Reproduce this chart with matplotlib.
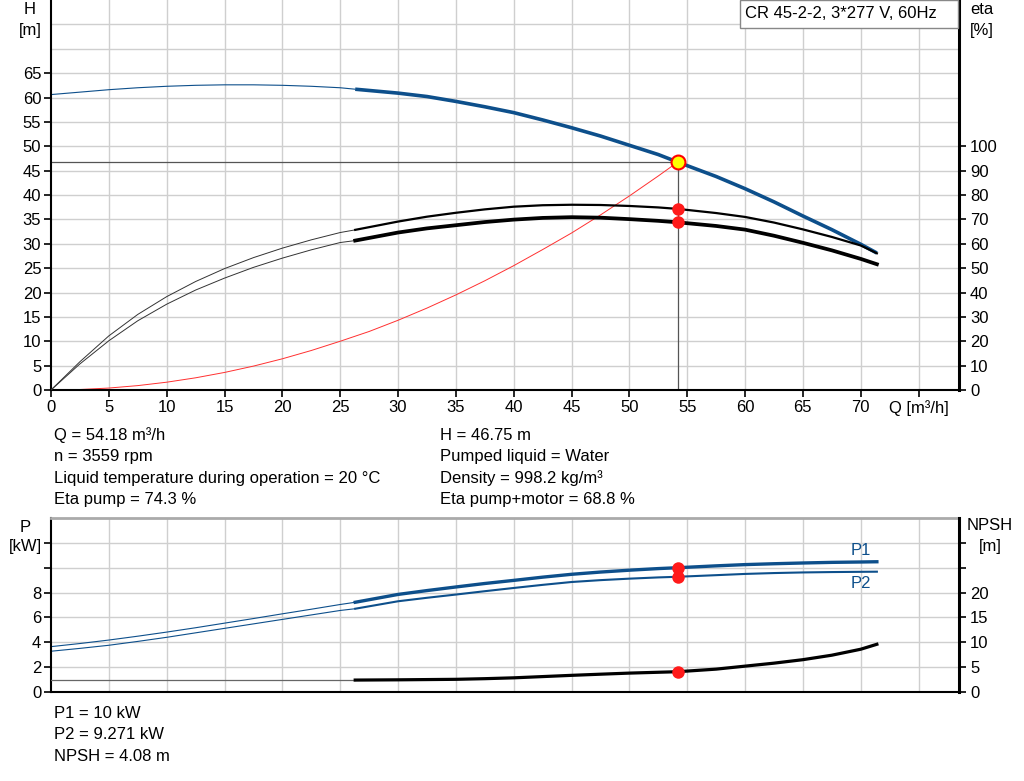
import numpy as np
import matplotlib.pyplot as plt
from matplotlib.patches import Rectangle

plt.rcParams['font.family'] = ['Liberation Sans', 'DejaVu Sans']
plt.rcParams['font.size'] = 12

# --- curve data ---
q = [0, 2.5, 5, 7.5, 10, 12.5, 15, 17.5, 20, 22.5, 25, 26.3, 30, 32.5, 35, 37.5,
     40, 42.5, 45, 47.5, 50, 52.5, 54.18, 57.5, 60, 62.5, 65, 67.5, 70, 71.4]
head = [60.6, 61.1, 61.6, 62.0, 62.3, 62.5, 62.6, 62.6, 62.5, 62.3, 62.0, 61.7,
        60.9, 60.2, 59.2, 58.1, 56.9, 55.4, 53.8, 52.1, 50.2, 48.3, 46.75, 43.8,
        41.3, 38.6, 35.7, 32.9, 29.9, 28.1]
eta_pump = [0, 11.6, 22.2, 31.0, 38.3, 44.5, 49.8, 54.3, 58.2, 61.6, 64.6, 65.7,
            69.1, 71.1, 72.7, 74.1, 75.2, 75.8, 76.0, 75.9, 75.5, 74.9, 74.3, 72.6,
            71.0, 68.7, 65.9, 62.8, 59.3, 56.1]
eta_total = [0, 10.7, 20.2, 28.4, 35.2, 41.0, 45.9, 50.3, 54.1, 57.5, 60.5, 61.3,
             64.6, 66.3, 67.6, 68.9, 69.9, 70.6, 70.9, 70.7, 70.1, 69.4, 68.8, 67.3,
             65.8, 63.3, 60.4, 57.3, 53.8, 51.6]
p1 = [3.65, 3.9, 4.18, 4.49, 4.82, 5.17, 5.54, 5.91, 6.29, 6.66, 7.04, 7.22, 7.85,
      8.16, 8.45, 8.73, 8.98, 9.24, 9.47, 9.65, 9.8, 9.93, 10.0, 10.15, 10.25, 10.32,
      10.38, 10.43, 10.46, 10.48]
p2 = [3.28, 3.51, 3.76, 4.07, 4.40, 4.76, 5.12, 5.48, 5.84, 6.2, 6.56, 6.70, 7.3,
      7.58, 7.84, 8.11, 8.37, 8.62, 8.85, 9.0, 9.12, 9.22, 9.271, 9.4, 9.5, 9.57,
      9.62, 9.65, 9.67, 9.68]
npsh = [2.4, 2.4, 2.4, 2.4, 2.4, 2.4, 2.4, 2.4, 2.4, 2.4, 2.4, 2.4, 2.45, 2.5,
        2.55, 2.68, 2.85, 3.1, 3.35, 3.58, 3.8, 3.97, 4.08, 4.6, 5.2, 5.8, 6.5, 7.4,
        8.6, 9.6]

q_sys = [0, 2.5, 5, 7.5, 10, 12.5, 15, 17.5, 20, 22.5, 25, 27.5, 30, 32.5, 35,
         37.5, 40, 42.5, 45, 47.5, 50, 52.5, 54.18]
h_sys = [0, 0.1, 0.4, 0.9, 1.6, 2.5, 3.6, 4.9, 6.4, 8.1, 10.0, 12.0, 14.3, 16.8,
         19.5, 22.4, 25.5, 28.8, 32.2, 35.9, 39.8, 43.9, 46.75]

q_duty, h_duty = 54.18, 46.75
eta_duty, eta_tot_duty = 74.3, 68.8
p1_duty, p2_duty, npsh_duty = 10.0, 9.271, 4.08
q_min = 26.3  # start of the recommended operating range

info_left = ["Q = 54.18 m³/h", "n = 3559 rpm",
             "Liquid temperature during operation = 20 °C", "Eta pump = 74.3 %"]
info_right = ["H = 46.75 m", "Pumped liquid = Water",
              "Density = 998.2 kg/m³", "Eta pump+motor = 68.8 %"]
info_bottom = ["P1 = 10 kW", "P2 = 9.271 kW", "NPSH = 4.08 m"]
title = "CR 45-2-2, 3*277 V, 60Hz"

blue = '#0d4f8b'
grid_c = '#cfcfcf'
W, H = 1024, 781


def fx(x):
    return x / W


def fy(y):
    return 1 - y / H


q = np.array(q)
i0 = list(q).index(q_min)

fig = plt.figure(figsize=(10.24, 7.81), dpi=100)

# ---------- top: head / efficiency ----------
ax = fig.add_axes([fx(51), fy(390), fx(959) - fx(51), fy(0) - fy(390)])
ax2 = ax.twinx()
ax.set_xlim(0, 78.5)
ax.set_ylim(0, 80)
ax2.set_ylim(0, 160)

for v in np.arange(5, 80, 5):
    ax.axvline(v, color=grid_c, lw=1, zorder=0)
for v in np.arange(5, 80, 5):
    ax.axhline(v, color=grid_c, lw=1, zorder=0)

xt = np.arange(0, 80, 5)
ax.set_xticks(xt)
ax.set_xticklabels([str(v) for v in xt[:-1]] + ["Q [m³/h]"])
ax.set_yticks(np.arange(0, 70, 5))
ax2.set_yticks(np.arange(0, 110, 10))

ax.plot(q[:i0 + 1], head[:i0 + 1], color=blue, lw=0.8)
ax.plot(q[i0:], head[i0:], color=blue, lw=2.6, solid_capstyle='butt')
ax.plot(q_sys, h_sys, color='#ff3030', lw=0.7)
ax.plot([0, q_duty], [h_duty, h_duty], color='#555555', lw=0.9)
ax.plot([q_duty, q_duty], [h_duty, 0], color='#555555', lw=0.9)

ax2.plot(q[:i0 + 1], eta_pump[:i0 + 1], color='#333333', lw=0.7)
ax2.plot(q[:i0 + 1], eta_total[:i0 + 1], color='#333333', lw=0.7)
ax2.plot(q[i0:], eta_pump[i0:], color='black', lw=1.6)
ax2.plot(q[i0:], eta_total[i0:], color='black', lw=2.7)
ax2.plot([q_duty, q_duty], [eta_duty, eta_tot_duty], 'o', color='#ff1a1a',
         ms=9, mec='none', zorder=5)
ax.plot([q_duty], [h_duty], 'o', color='#ffff00', mec='#ff0000',
        mew=1.5, ms=10, zorder=6)

for a in (ax, ax2):
    a.spines['top'].set_visible(False)
ax.spines['left'].set_linewidth(1.5)
ax.spines['bottom'].set_linewidth(1.5)
ax2.spines['right'].set_linewidth(2.2)
ax2.spines['left'].set_visible(False)
ax2.spines['bottom'].set_visible(False)
ax.tick_params(axis='both', direction='out', length=5, width=1.2, pad=2)
ax2.tick_params(axis='y', direction='out', length=5, width=1.2, pad=3)

# model box in the top right corner
fig.patches.append(Rectangle((fx(740), fy(28)), fx(958) - fx(740), fy(0) - fy(28),
                             transform=fig.transFigure, fc='white', ec='#888888',
                             lw=1, zorder=10))
fig.text(fx(745), fy(14), title, ha='left', va='center', zorder=11)

fig.text(fx(30), fy(10), "H", ha='center', va='center')
fig.text(fx(30), fy(30), "[m]", ha='center', va='center')
fig.text(fx(982), fy(10), "eta", ha='center', va='center')
fig.text(fx(982), fy(30), "[%]", ha='center', va='center')

for k, s in enumerate(info_left):
    fig.text(fx(54), fy(435 + k * 21.5), s, ha='left', va='center')
for k, s in enumerate(info_right):
    fig.text(fx(440), fy(435 + k * 21.5), s, ha='left', va='center')

# ---------- bottom: power / NPSH ----------
bx = fig.add_axes([fx(51), fy(692), fx(959) - fx(51), fy(518) - fy(692)])
bx2 = bx.twinx()
bx.set_xlim(0, 78.5)
bx.set_ylim(0, 14)
bx2.set_ylim(0, 35)

for v in np.arange(5, 80, 5):
    bx.axvline(v, color=grid_c, lw=1, zorder=0)
for v in np.arange(2, 14, 2):
    bx.axhline(v, color=grid_c, lw=1, zorder=0)

bx.set_xticks([])
bx.set_yticks(np.arange(0, 14, 2))
bx.set_yticklabels(['0', '2', '4', '6', '8', '', ''])
bx2.set_yticks(np.arange(0, 35, 5))
bx2.set_yticklabels(['0', '5', '10', '15', '20', '', ''])

bx.plot(q[:i0 + 1], p1[:i0 + 1], color=blue, lw=0.8)
bx.plot(q[:i0 + 1], p2[:i0 + 1], color=blue, lw=0.8)
bx.plot(q[i0:], p1[i0:], color=blue, lw=2.4)
bx.plot(q[i0:], p2[i0:], color=blue, lw=1.5)
bx.plot([q_duty, q_duty], [p1_duty, p2_duty], 'o', color='#ff1a1a', ms=9,
        mec='none', zorder=5)
bx.text(69.1, 11.4, "P1", color=blue, ha='left', va='center')
bx.text(69.1, 8.7, "P2", color=blue, ha='left', va='center')

bx2.plot(q[:i0 + 1], npsh[:i0 + 1], color='#666666', lw=0.9)
bx2.plot(q[i0:], npsh[i0:], color='black', lw=2.3)
bx2.plot([q_duty], [npsh_duty], 'o', color='#ff1a1a', ms=9, mec='none', zorder=5)

bx.spines['top'].set_color('#aaaaaa')
bx.spines['top'].set_linewidth(2)
bx2.spines['top'].set_visible(False)
bx.spines['left'].set_linewidth(1.5)
bx.spines['bottom'].set_linewidth(1.5)
bx2.spines['right'].set_linewidth(2.2)
bx2.spines['left'].set_visible(False)
bx2.spines['bottom'].set_visible(False)
bx.tick_params(axis='y', direction='out', length=5, width=1.2, pad=2)
bx2.tick_params(axis='y', direction='out', length=5, width=1.2, pad=3)

fig.text(fx(25), fy(527), "P", ha='center', va='center')
fig.text(fx(25), fy(547), "[kW]", ha='center', va='center')
fig.text(fx(990), fy(525), "NPSH", ha='center', va='center')
fig.text(fx(990), fy(546), "[m]", ha='center', va='center')

for k, s in enumerate(info_bottom):
    fig.text(fx(54), fy(713 + k * 21.8), s, ha='left', va='center')

fig.savefig("out.png", dpi=100)
